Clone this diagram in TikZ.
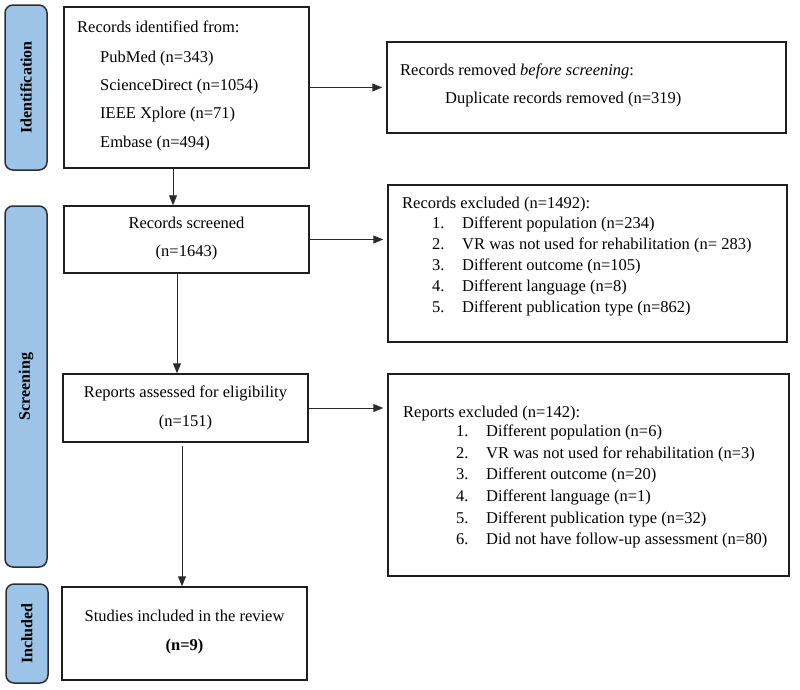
\documentclass[tikz,border=0pt]{standalone}
\usepackage{fontspec}
\setmainfont{Liberation Serif}
\usetikzlibrary{arrows.meta}
\definecolor{barblue}{HTML}{9DC3E6}
\definecolor{bardraw}{HTML}{2B2F36}
\definecolor{boxdraw}{HTML}{1E1E1E}
\definecolor{arrowc}{HTML}{2A2A2A}
\tikzset{
  mainfont/.style={font=\fontsize{16.5pt}{20pt}\selectfont},
  box/.style={draw=boxdraw, line width=1.5pt, fill=white, inner sep=0pt},
  bar/.style={draw=bardraw, line width=1.5pt, fill=barblue, rounded corners=8pt,
    rotate=90, inner sep=0pt, font=\fontsize{16pt}{19pt}\selectfont\bfseries},
  txt/.style={mainfont, anchor=base west, inner sep=0pt},
  ctxt/.style={mainfont, anchor=base, inner sep=0pt},
  flow/.style={draw=arrowc, line width=1pt, -{Triangle[length=10pt,width=8pt]}},
}
\begin{document}
\begin{tikzpicture}[x=1pt,y=-1pt]
\useasboundingbox (0,0) rectangle (800,689);

% phase bars
\node[bar, minimum width=165pt, minimum height=42pt] (bar1) at (26,87.5) {Identification};
\node[bar, minimum width=361pt, minimum height=42pt] (bar2) at (26,386.5) {Screening};
\node[bar, minimum width=99pt, minimum height=42pt] (bar3) at (27,633.5) {Included};

% boxes
\node[box, minimum width=245pt, minimum height=161pt] (b1) at (186.5,87.5) {};
\node[box, minimum width=399pt, minimum height=91pt] (b2) at (586.5,87.5) {};
\node[box, minimum width=245pt, minimum height=67pt] (b3) at (186.5,239.5) {};
\node[box, minimum width=399pt, minimum height=157pt] (b4) at (587.5,263.5) {};
\node[box, minimum width=245pt, minimum height=68pt] (b5) at (185.5,408) {};
\node[box, minimum width=401pt, minimum height=202pt] (b6) at (588.5,475) {};
\node[box, minimum width=245pt, minimum height=93pt] (b7) at (184.5,633.5) {};

% box 1 text
\node[txt] (t1a) at (77,32) {Records identified from:};
\node[txt] (t1b) at (100,62) {PubMed (n=343)};
\node[txt] (t1c) at (100,90) {ScienceDirect (n=1054)};
\node[txt] (t1d) at (100,118) {IEEE Xplore (n=71)};
\node[txt] (t1e) at (100,147) {Embase (n=494)};

% box 2 text
\node[txt] (t2a) at (400,75) {Records removed \textit{before screening}:};
\node[txt] (t2b) at (445,103) {Duplicate records removed (n=319)};

% box 3 text
\node[ctxt] (t3a) at (186.5,228) {Records screened};
\node[ctxt] (t3b) at (186.5,256) {(n=1643)};

% box 4 text
\node[txt] (t4h) at (402,208) {Records excluded (n=1492):};
\node[txt] (t4n1) at (432,228) {1.};
\node[txt] (t4i1) at (462,228) {Different population (n=234)};
\node[txt] (t4n2) at (432,249.5) {2.};
\node[txt] (t4i2) at (462,249.5) {VR was not used for rehabilitation (n= 283)};
\node[txt] (t4n3) at (432,270.5) {3.};
\node[txt] (t4i3) at (462,270.5) {Different outcome (n=105)};
\node[txt] (t4n4) at (432,291.5) {4.};
\node[txt] (t4i4) at (462,291.5) {Different language (n=8)};
\node[txt] (t4n5) at (432,312.5) {5.};
\node[txt] (t4i5) at (462,312.5) {Different publication type (n=862)};

% box 5 text
\node[ctxt] (t5a) at (185.5,397) {Reports assessed for eligibility};
\node[ctxt] (t5b) at (185.5,426) {(n=151)};

% box 6 text
\node[txt] (t6h) at (403,417) {Reports excluded (n=142):};
\node[txt] (t6n1) at (456,436) {1.};
\node[txt] (t6i1) at (486,436) {Different population (n=6)};
\node[txt] (t6n2) at (456,458) {2.};
\node[txt] (t6i2) at (486,458) {VR was not used for rehabilitation (n=3)};
\node[txt] (t6n3) at (456,479) {3.};
\node[txt] (t6i3) at (486,479) {Different outcome (n=20)};
\node[txt] (t6n4) at (456,501) {4.};
\node[txt] (t6i4) at (486,501) {Different language (n=1)};
\node[txt] (t6n5) at (456,523) {5.};
\node[txt] (t6i5) at (486,523) {Different publication type (n=32)};
\node[txt] (t6n6) at (456,544) {6.};
\node[txt] (t6i6) at (486,544) {Did not have follow-up assessment (n=80)};

% box 7 text
\node[ctxt] (t7a) at (184.5,621) {Studies included in the review};
\node[ctxt] (t7b) at (184.5,650) {\textbf{(n=9)}};

% connectors
\draw[flow, shorten >=4pt] (b1.east |- b2.west) -- (b2.west);
\draw[flow] ([xshift=-13.5pt]b1.south) -- ([xshift=-13.5pt]b3.north);
\draw[flow, shorten >=4pt] (b3.east) -- (b4.west |- b3.east);
\draw[flow] ([xshift=-9.5pt]b3.south) -- ([xshift=-8.5pt]b5.north);
\draw[flow, shorten >=4pt] (b5.east) -- (b6.west |- b5.east);
\draw[flow, shorten <=3pt] ([xshift=-3.5pt]b5.south) -- ([xshift=-2.5pt]b7.north);
\end{tikzpicture}
\end{document}
